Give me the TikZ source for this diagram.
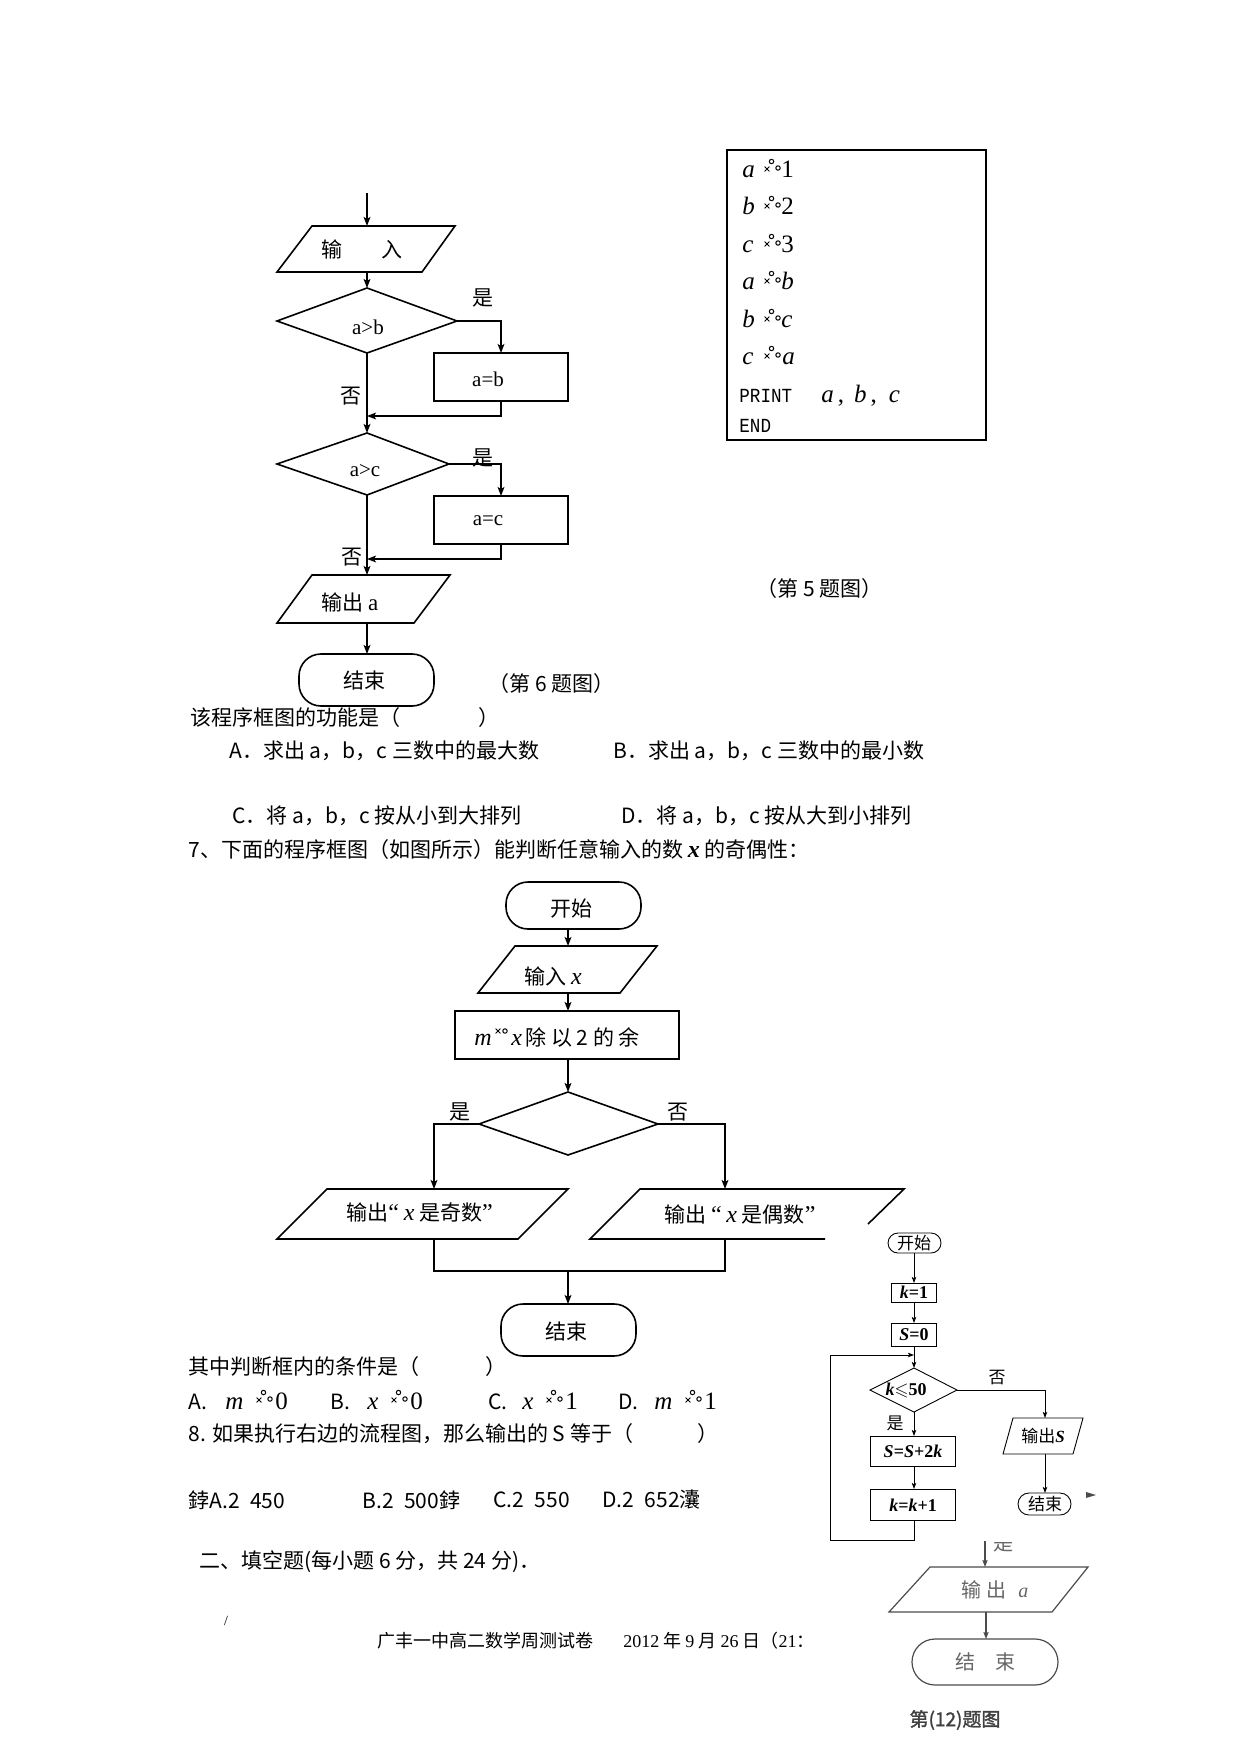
\documentclass[tikz,border=0pt]{standalone}
\usepackage{fontspec}
\usepackage{amssymb}
\setmainfont{Liberation Serif}
\newfontfamily\cjk{Noto Sans CJK SC}
\newfontfamily\cjkbold[FakeBold=1.5]{Noto Sans CJK SC}
\newfontfamily\mono[FakeStretch=0.88]{Liberation Mono}
\usetikzlibrary{arrows.meta}
\newcommand\ivar[1]{{\rmfamily\itshape #1}}
\newcommand\bivar[1]{{\rmfamily\bfseries\itshape #1}}
\begin{document}
\begin{tikzpicture}[x=0.5pt,y=-0.5pt,
  ln/.style={line width=0.8pt},
  arr/.style={line width=0.8pt,-{Stealth[length=4.5pt,width=3.4pt,inset=1pt]}},
  sln/.style={line width=0.45pt},
  sarr/.style={line width=0.45pt,-{Stealth[length=3pt,width=2.2pt,inset=0.6pt]}},
  gln/.style={line width=0.6pt,draw=black!70},
  garr/.style={line width=0.6pt,draw=black!70,-{Stealth[length=3.5pt,width=2.6pt,inset=0.6pt]}},
  zh/.style={inner sep=0pt,font=\cjk\fontsize{10.5}{12}\selectfont},
  zhs/.style={inner sep=0pt,font=\cjk\fontsize{9}{10}\selectfont},
  lt/.style={inner sep=0pt,font=\fontsize{10.5}{12}\selectfont},
  cd/.style={inner sep=0pt,anchor=base west,font=\fontsize{12.5}{13}\selectfont\itshape},
  cdu/.style={inner sep=0pt,anchor=base west,font=\fontsize{12.5}{13}\selectfont},
  sm/.style={inner sep=0pt,font=\cjk\fontsize{8.5}{9}\selectfont},
  smb/.style={inner sep=0pt,font=\fontsize{9}{10}\selectfont\bfseries},
  gt/.style={inner sep=0pt,text=black!60,font=\cjk\fontsize{10}{11}\selectfont},
  garbmark/.pic={
    \draw[line width=0.4pt] (-2.4,-2.4) -- (2.4,2.4) (-2.4,2.4) -- (2.4,-2.4);
    \draw[line width=0.5pt] (4.5,-7.5) circle[radius=2.2];
    \draw[line width=0.5pt] (11,-1) circle[radius=2.2];
  },
  garbpair/.pic={
    \draw[line width=0.4pt] (-2.4,-2.4) -- (2.4,2.4) (-2.4,2.4) -- (2.4,-2.4);
    \draw[line width=0.5pt] (7,0) circle[radius=2.2];
  },
]
\useasboundingbox (0,0) rectangle (1241,1754);
\fill[white] (0,0) rectangle (1241,1754);

% ================= Fig 6 =================
\coordinate (f6a) at (367,193);
\coordinate (f6inN) at (367,226);
\draw[arr] (f6a) -- (f6inN);
\draw[ln] (312,226) -- (455,226) -- (422,272) -- (277,272) -- cycle;
\node[zh] (f6inT) at (362,249) {输\hspace{20pt}入};
\coordinate (f6inS) at (367,272);
\coordinate (f6d1N) at (367,288);
\coordinate (f6d1E) at (457,321);
\coordinate (f6d1S) at (367,353);
\coordinate (f6d1W) at (277,321);
\draw[arr] (f6inS) -- (f6d1N);
\draw[ln] (f6d1N) -- (f6d1E) -- (f6d1S) -- (f6d1W) -- cycle;
\node[lt] (f6d1T) at (368,327) {a>b};
\node[zh] (f6y1) at (483,298) {是};
\coordinate (f6b1N) at (501,353);
\coordinate (f6b1S) at (501,401);
\draw[arr] (f6d1E) -| (f6b1N);
\draw[ln] (434,353) rectangle (568,401);
\node[lt] (f6b1T) at (488,379) {a=b};
\coordinate (f6m1) at (367,416);
\draw[arr] (f6b1S) |- (f6m1);
\node[zh] (f6n1) at (351,396) {否};
\coordinate (f6d2N) at (367,433);
\coordinate (f6d2E) at (449,464);
\coordinate (f6d2S) at (367,495);
\coordinate (f6d2W) at (277,464);
\draw[arr] (f6d1S) -- (f6d2N);
\draw[ln] (f6d2N) -- (f6d2E) -- (f6d2S) -- (f6d2W) -- cycle;
\node[lt] (f6d2T) at (365,471) {a>c};
\node[zh] (f6y2) at (483,458) {是};
\coordinate (f6b2N) at (501,496);
\coordinate (f6b2S) at (501,544);
\draw[arr] (f6d2E) -| (f6b2N);
\draw[ln] (434,496) rectangle (568,544);
\node[lt] (f6b2T) at (488,521) {a=c};
\coordinate (f6m2) at (367,559);
\draw[arr] (f6b2S) |- (f6m2);
\node[zh] (f6n2) at (352,557) {否};
\coordinate (f6outN) at (367,575);
\draw[arr] (f6d2S) -- (f6outN);
\draw[ln] (312,575) -- (450,575) -- (414,623) -- (277,623) -- cycle;
\node[zh,anchor=west] (f6outT) at (321,602) {输出 {\rmfamily\fontsize{11.5}{12}\selectfont a}};
\coordinate (f6outS) at (367,623);
\coordinate (f6endN) at (367,654);
\draw[arr] (f6outS) -- (f6endN);
\draw[ln,rounded corners=11pt] (299,654) rectangle (434,706);
\node[zh] (f6endT) at (364,681) {结束};
\node[zh,anchor=west] (f6cap) at (488,684) {（第 6 题图）};

% ================= Fig 5 =================
\draw[line width=0.6pt] (727,150) rectangle (986,440);
\node[cd] (c1a) at (742,178) {a};  \pic at (767,169) {garbmark}; \node[cdu] (c1b) at (781,178) {1};
\node[cd] (c2a) at (742,215) {b};  \pic at (767,206) {garbmark}; \node[cdu] (c2b) at (781,215) {2};
\node[cd] (c3a) at (742,253) {c};  \pic at (767,244) {garbmark}; \node[cdu] (c3b) at (781,253) {3};
\node[cd] (c4a) at (742,290) {a};  \pic at (767,281) {garbmark}; \node[cd] (c4b) at (781,290) {b};
\node[cd] (c5a) at (742,328) {b};  \pic at (767,319) {garbmark}; \node[cd] (c5b) at (781,328) {c};
\node[cd] (c6a) at (742,365) {c};  \pic at (767,356) {garbmark}; \node[cd] (c6b) at (782,365) {a};
\node[cdu,font=\mono\fontsize{10}{11}\selectfont] (c7) at (739,403) {PRINT};
\node[cdu] (c7b) at (821,403) {{\itshape a}\kern2pt,\kern5pt{\itshape b}\kern2pt,\kern6pt{\itshape c}};
\node[cdu,font=\mono\fontsize{10}{11}\selectfont] (c8) at (739,433) {END};
\node[zh,anchor=west] (f5cap) at (756,589) {（第 5 题图）};

% ================= Text block 1 =================
\node[zh,anchor=west] (t1) at (190,718) {该程序框图的功能是（\hspace{39pt}）};
\node[zh,anchor=west] (t2a) at (229,751) {A．求出 a，b，c 三数中的最大数};
\node[zh,anchor=west] (t2b) at (613,751) {B．求出 a，b，c 三数中的最小数};
\node[zh,anchor=west] (t3a) at (232,816) {C．将 a，b，c 按从小到大排列};
\node[zh,anchor=west] (t3b) at (621,816) {D．将 a，b，c 按从大到小排列};
\node[zh,anchor=west] (t4) at (188,850) {7、下面的程序框图（如图所示）能判断任意输入的数 {\fontsize{12}{12}\selectfont\bivar{x}} 的奇偶性：};

% ================= Fig 7 =================
\draw[ln,rounded corners=11pt] (506,882) rectangle (641,929);
\node[zh] (f7start) at (571,909) {开始};
\coordinate (f7sS) at (568,929);
\coordinate (f7inN) at (568,946);
\draw[arr] (f7sS) -- (f7inN);
\draw[ln] (515,946) -- (657,946) -- (620,993) -- (478,993) -- cycle;
\node[zh,anchor=west] (f7inT) at (524,976) {输入 {\fontsize{12}{12}\selectfont\ivar{x}}};
\coordinate (f7inS) at (568,993);
\coordinate (f7bN) at (568,1011);
\draw[arr] (f7inS) -- (f7bN);
\draw[ln] (455,1011) rectangle (679,1059);
\node[cd,font=\fontsize{12}{12}\selectfont\itshape] (f7bM) at (474,1045) {m};
\pic at (498,1031) {garbpair};
\node[cd,font=\fontsize{12}{12}\selectfont\itshape] (f7bX) at (511,1045) {x};
\node[zh,anchor=west] (f7bT) at (525,1037) {除 以 2 的 余};
\coordinate (f7bS) at (568,1059);
\coordinate (f7dN) at (568,1092);
\coordinate (f7dE) at (658,1124);
\coordinate (f7dS) at (568,1155);
\coordinate (f7dW) at (479,1124);
\draw[arr] (f7bS) -- (f7dN);
\draw[ln] (f7dN) -- (f7dE) -- (f7dS) -- (f7dW) -- cycle;
\node[zh] (f7yes) at (460,1112) {是};
\node[zh] (f7no) at (678,1112) {否};
\coordinate (f7LN) at (434,1189);
\coordinate (f7RN) at (725,1189);
\draw[arr] (f7dW) -| (f7LN);
\draw[arr] (f7dE) -| (f7RN);
\draw[ln] (327,1189) -- (568,1189) -- (518,1239) -- (277,1239) -- cycle;
\node[zh,anchor=west] (f7oddT) at (346,1213) {输出{\rmfamily\fontsize{12}{12}\selectfont“} {\fontsize{12}{12}\selectfont\ivar{x}} 是奇数{\rmfamily\fontsize{12}{12}\selectfont”}};
\draw[ln] (868,1224) -- (904,1189) -- (640,1189) -- (590,1239) -- (825,1239);
\node[zh,anchor=west] (f7evenT) at (664,1215) {输出 {\rmfamily\fontsize{12}{12}\selectfont“} {\fontsize{12}{12}\selectfont\ivar{x}} 是偶数{\rmfamily\fontsize{12}{12}\selectfont”}};
\coordinate (f7LS) at (434,1239);
\coordinate (f7RS) at (725,1239);
\coordinate (f7J) at (568,1271);
\coordinate (f7endN) at (568,1304);
\draw[ln] (f7LS) |- (f7J) -| (f7RS);
\draw[arr] (f7J) -- (f7endN);
\draw[ln,rounded corners=11pt] (501,1304) rectangle (636,1356);
\node[zh] (f7endT) at (566,1331) {结束};

% ================= Text block 2 =================
\node[zh,anchor=west] (t5) at (188,1367) {其中判断框内的条件是（\hspace{33pt}）};
\node[zh,anchor=west] (oA) at (188,1402) {A.};
\node[cd] (oAv) at (225,1409) {m}; \pic at (259,1400) {garbmark}; \node[cdu] (oAn) at (275,1409) {0};
\node[zh,anchor=west] (oB) at (330,1402) {B.};
\node[cd] (oBv) at (367,1409) {x}; \pic at (394,1400) {garbmark}; \node[cdu] (oBn) at (410,1409) {0};
\node[zh,anchor=west] (oC) at (488,1402) {C.};
\node[cd] (oCv) at (522,1409) {x}; \pic at (549,1400) {garbmark}; \node[cdu] (oCn) at (565,1409) {1};
\node[zh,anchor=west] (oD) at (618,1402) {D.};
\node[cd] (oDv) at (654,1409) {m}; \pic at (688,1400) {garbmark}; \node[cdu] (oDn) at (704,1409) {1};
\node[zh,anchor=west] (t6) at (188,1434) {8. 如果执行右边的流程图，那么输出的 S 等于（\hspace{32pt}）};
\node[zh,anchor=west] (pA) at (188,1500) {鋍A.2\hspace{0.5em}450};
\node[zh,anchor=west] (pB) at (362,1500) {B.2\hspace{0.5em}500鋍};
\node[zh,anchor=west] (pC) at (493,1500) {C.2\hspace{0.5em}550};
\node[zh,anchor=west] (pD) at (602,1500) {D.2\hspace{0.5em}652灢};
\node[zh,anchor=west] (t7) at (199,1562) {二、填空题(每小题 6 分，共 24 分)．};
\node[inner sep=0pt,font=\fontsize{7}{8}\selectfont] (tick) at (226,1621) {/};
\node[zhs,anchor=west] (foot) at (377,1641) {广丰一中高二数学周测试卷\hspace{15pt}{\rmfamily 2012} 年 {\rmfamily 9} 月 {\rmfamily 26} 日（{\rmfamily 21}：};

% ================= Fig 8 (small) =================
\draw[sln,rounded corners=5pt] (888,1233) rectangle (941,1253);
\node[sm] (g8start) at (914,1243) {开始};
\coordinate (g8sS) at (914,1253);
\coordinate (g8k1N) at (914,1283);
\draw[sarr] (g8sS) -- (g8k1N);
\draw[sln] (891,1283) rectangle (936,1302);
\node[smb] (g8k1) at (914,1292.5) {\itshape k\upshape=1};
\coordinate (g8k1S) at (914,1302);
\coordinate (g8s0N) at (914,1323);
\draw[sarr] (g8k1S) -- (g8s0N);
\draw[sln] (891,1323) rectangle (936,1346);
\node[smb] (g8s0) at (914,1335) {\itshape S\upshape=0};
\coordinate (g8s0S) at (914,1346);
\coordinate (g8dN) at (914,1368);
\coordinate (g8dE) at (957,1390);
\coordinate (g8dS) at (914,1412);
\coordinate (g8dW) at (870,1390);
\draw[sarr] (g8s0S) -- (g8dN);
\draw[sln] (g8dN) -- (g8dE) -- (g8dS) -- (g8dW) -- cycle;
\node[smb] (g8dT) at (906,1390) {\itshape k\upshape$\leqslant$50};
\node[sm] (g8no) at (997,1378) {否};
\node[sm] (g8yes) at (895,1423) {是};
\coordinate (g8oN) at (1045,1418);
\draw[sarr] (g8dE) -| (g8oN);
\draw[sln] (1013,1418) -- (1083,1418) -- (1073,1454) -- (1003,1454) -- cycle;
\node[sm] (g8oT) at (1043,1436) {输出\bivar{S}};
\coordinate (g8oS) at (1045,1454);
\coordinate (g8eN) at (1045,1493);
\draw[sarr] (g8oS) -- (g8eN);
\draw[sln,rounded corners=5.5pt] (1018,1493) rectangle (1071,1515);
\node[sm] (g8eT) at (1045,1504) {结束};
\coordinate (g8aN) at (914,1436);
\draw[sarr] (g8dS) -- (g8aN);
\draw[sln] (870,1436) rectangle (955,1466);
\node[smb] (g8aT) at (913,1451) {\itshape S\upshape=\itshape S\upshape+2\itshape k};
\coordinate (g8aS) at (914,1466);
\coordinate (g8bN) at (914,1489);
\draw[sarr] (g8aS) -- (g8bN);
\draw[sln] (870,1489) rectangle (955,1520);
\node[smb] (g8bT) at (913,1505) {\itshape k\upshape=\itshape k\upshape+1};
\coordinate (g8bS) at (914,1520);
\coordinate (g8back) at (914,1355);
\draw[sarr] (g8bS) -- (914,1540) -- (830,1540) -- (830,1355) -- (g8back);
\fill[black!70] (1086,1492) -- (1096,1495) -- (1086,1498) -- cycle;

% ================= Fig 12 fragment =================
\begin{scope}
\clip (980,1542) rectangle (1030,1570);
\node[gt] (h12yes) at (1003,1543) {是};
\end{scope}
\coordinate (h12top) at (985,1541);
\coordinate (h12oN) at (985,1567);
\draw[garr] (h12top) -- (h12oN);
\draw[gln] (930,1567) -- (1088,1567) -- (1052,1612) -- (889,1612) -- cycle;
\node[gt] (h12oT) at (995,1590) {输 出\hspace{6pt}{\rmfamily\itshape a}};
\coordinate (h12oS) at (986,1612);
\coordinate (h12eN) at (986,1639);
\draw[garr] (h12oS) -- (h12eN);
\draw[gln,rounded corners=11.5pt] (912,1639) rectangle (1058,1685);
\node[gt] (h12eT) at (985,1662) {结\hspace{1em}束};
\node[inner sep=0pt,text=black!75,font=\cjkbold\fontsize{9.5}{10}\selectfont] (h12cap) at (955,1720) {第(12)题图};
\end{tikzpicture}
\end{document}
